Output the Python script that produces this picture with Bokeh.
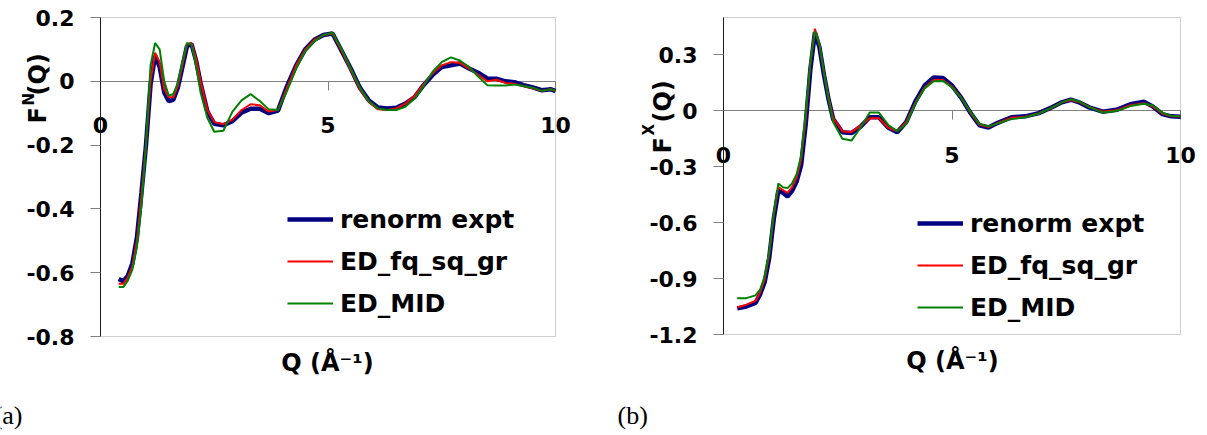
import math
from bokeh.plotting import figure
from bokeh.models import (LinearAxis, FixedTicker, CustomJSTickFormatter, Label,
                          Legend, LegendItem, Range1d, BoxAnnotation)
from bokeh.layouts import row
from bokeh.embed import file_html
from bokeh.resources import INLINE

# ---------------- data: panel (a) neutron F^N(Q) ----------------
qa = [0.4, 0.5, 0.6, 0.7, 0.8, 0.9, 1.0, 1.1, 1.2, 1.3, 1.4, 1.5, 1.6, 1.7, 1.8, 1.9,
      2.0, 2.1, 2.2, 2.35, 2.5, 2.7, 2.9, 3.1, 3.3, 3.5, 3.7, 3.9, 4.1, 4.3, 4.5, 4.7,
      4.9, 5.1, 5.3, 5.5, 5.7, 5.9, 6.1, 6.3, 6.5, 6.7, 6.9, 7.1, 7.3, 7.5, 7.7, 7.9,
      8.1, 8.3, 8.5, 8.7, 8.9, 9.1, 9.3, 9.5, 9.7, 9.9, 10.0]
fa_expt = [-0.62, -0.627, -0.61, -0.571, -0.49, -0.35, -0.2, -0.01, 0.08, 0.045, -0.035,
           -0.062, -0.058, -0.02, 0.045, 0.11, 0.117, 0.065, -0.006, -0.095, -0.133, -0.138,
           -0.125, -0.098, -0.086, -0.086, -0.1, -0.092, -0.015, 0.05, 0.1, 0.13, 0.145,
           0.15, 0.095, 0.04, -0.02, -0.06, -0.082, -0.085, -0.083, -0.07, -0.05, -0.012,
           0.02, 0.045, 0.05, 0.056, 0.04, 0.027, 0.009, 0.008, 0.0, -0.003, -0.012,
           -0.019, -0.028, -0.025, -0.031]
fa_fq = [-0.635, -0.635, -0.615, -0.58, -0.5, -0.36, -0.2, 0.0, 0.09, 0.06, -0.025,
         -0.05, -0.05, -0.015, 0.05, 0.115, 0.12, 0.07, 0.0, -0.09, -0.128, -0.135,
         -0.12, -0.09, -0.072, -0.075, -0.095, -0.09, -0.02, 0.05, 0.1, 0.13, 0.145,
         0.15, 0.095, 0.035, -0.025, -0.065, -0.088, -0.09, -0.085, -0.07, -0.045, -0.01,
         0.025, 0.05, 0.06, 0.058, 0.04, 0.02, 0.0, 0.005, -0.005, -0.008, -0.015,
         -0.022, -0.03, -0.025, -0.03]
fa_mid = [-0.645, -0.645, -0.625, -0.59, -0.52, -0.39, -0.2, 0.05, 0.12, 0.1, 0.0,
          -0.045, -0.04, -0.005, 0.06, 0.12, 0.115, 0.05, -0.035, -0.115, -0.158, -0.155,
          -0.095, -0.06, -0.04, -0.062, -0.088, -0.09, -0.03, 0.04, 0.095, 0.125, 0.145,
          0.152, 0.1, 0.04, -0.02, -0.062, -0.085, -0.09, -0.09, -0.08, -0.055, -0.015,
          0.03, 0.06, 0.075, 0.065, 0.045, 0.015, -0.012, -0.013, -0.013, -0.01, -0.015,
          -0.02, -0.03, -0.025, -0.03]

# ---------------- data: panel (b) x-ray F^X(Q) ----------------
qb = [0.3, 0.5, 0.7, 0.8, 0.9, 1.0, 1.1, 1.2, 1.3, 1.4, 1.5, 1.6, 1.7, 1.8, 1.9, 2.0,
      2.1, 2.2, 2.3, 2.4, 2.6, 2.8, 3.0, 3.2, 3.4, 3.6, 3.8, 4.0, 4.2, 4.4, 4.6, 4.8,
      5.0, 5.2, 5.4, 5.6, 5.8, 6.0, 6.3, 6.6, 6.9, 7.2, 7.4, 7.6, 7.8, 8.0, 8.3, 8.6,
      8.9, 9.2, 9.4, 9.6, 9.8, 10.0]
fb_expt = [-1.06, -1.05, -1.03, -0.985, -0.92, -0.79, -0.58, -0.43, -0.44, -0.46, -0.43,
           -0.38, -0.29, -0.07, 0.22, 0.42, 0.34, 0.19, 0.06, -0.045, -0.115, -0.12,
           -0.085, -0.035, -0.035, -0.09, -0.115, -0.06, 0.05, 0.135, 0.178, 0.175,
           0.135, 0.07, -0.01, -0.078, -0.09, -0.065, -0.035, -0.03, -0.013, 0.02, 0.045,
           0.059, 0.043, 0.018, -0.005, 0.005, 0.035, 0.048, 0.022, -0.018, -0.03, -0.032]
fb_fq = [-1.055, -1.04, -1.02, -0.975, -0.905, -0.77, -0.56, -0.41, -0.425, -0.44, -0.41,
         -0.36, -0.26, -0.04, 0.25, 0.44, 0.35, 0.2, 0.07, -0.04, -0.11, -0.115,
         -0.08, -0.04, -0.04, -0.09, -0.11, -0.06, 0.045, 0.125, 0.165, 0.165,
         0.13, 0.07, -0.01, -0.075, -0.088, -0.065, -0.038, -0.032, -0.015, 0.018, 0.045,
         0.058, 0.045, 0.02, -0.005, 0.002, 0.03, 0.04, 0.022, -0.015, -0.03, -0.03]
fb_mid = [-1.005, -1.005, -0.99, -0.96, -0.89, -0.76, -0.55, -0.39, -0.41, -0.415, -0.39,
          -0.34, -0.24, -0.01, 0.26, 0.425, 0.36, 0.2, 0.06, -0.06, -0.15, -0.16,
          -0.09, -0.01, -0.01, -0.075, -0.11, -0.07, 0.04, 0.12, 0.158, 0.16,
          0.125, 0.07, -0.005, -0.07, -0.085, -0.068, -0.045, -0.035, -0.015, 0.018, 0.045,
          0.062, 0.048, 0.02, -0.01, -0.002, 0.025, 0.038, 0.028, -0.01, -0.028, -0.03]

series_names = ["renorm expt", "ED_fq_sq_gr", "ED_MID"]
series_colors = ["#000080", "#FF0000", "#008000"]
series_widths = [4.5, 2, 2]
x_ticks = [0, 5, 10]
x_bounds = (0, 10)
ya_ticks = [-0.8, -0.6, -0.4, -0.2, 0, 0.2]
yb_ticks = [-1.2, -0.9, -0.6, -0.3, 0, 0.3]

FONT = "DejaVu Sans"
FMT = "return Number.isInteger(tick) ? tick.toFixed(0) : tick.toFixed(1);"
H = 435


def span_range(v0, p0, v1, p1, total, flip=False):
    """Range whose value v0 sits at pixel p0 and v1 at pixel p1 of a frame `total` px long."""
    s = (v1 - v0) / (p1 - p0)
    return Range1d(v0 - p0 * s, v0 + (total - p0) * s) if not flip else \
        Range1d(v0 + (total - p0) * s, v0 - p0 * s)


def make_panel(q, ys, ybounds, yticks, width, box_px, sup, tpos, qpos, leg_loc, tag, tag_pos):
    left_px, right_px, top_px, bot_px = box_px
    xr = span_range(x_bounds[0], left_px, x_bounds[1], right_px, width)
    # y pixels are measured from the top
    yr = span_range(ybounds[1], top_px, ybounds[0], bot_px, H, flip=True)
    p = figure(width=width, height=H, x_range=xr, y_range=yr,
               output_backend="svg", toolbar_location=None,
               x_axis_type=None, y_axis_type=None, min_border=0,
               min_border_left=0, min_border_right=0, min_border_top=0,
               min_border_bottom=0)
    p.outline_line_color = None
    p.background_fill_color = "white"
    p.border_fill_color = "white"

    # plot-area border
    p.add_layout(BoxAnnotation(left=x_bounds[0], right=x_bounds[1], bottom=ybounds[0],
                               top=ybounds[1], fill_alpha=0, line_color="#606060",
                               line_width=1, level="underlay"))

    yax = LinearAxis(fixed_location=0, bounds=ybounds, ticker=FixedTicker(ticks=yticks),
                     formatter=CustomJSTickFormatter(code=FMT))
    yax.axis_line_color = "black"
    yax.major_tick_line_color = "#808080"
    yax.major_tick_out = 10
    yax.major_tick_in = 0
    yax.minor_tick_line_color = None
    yax.major_label_standoff = 16
    yax.major_label_text_font = FONT
    yax.major_label_text_font_style = "bold"
    yax.major_label_text_font_size = "22px"
    yax.major_label_text_color = "black"
    yax.level = "underlay"
    p.add_layout(yax, "left")

    xax = LinearAxis(fixed_location=0, bounds=x_bounds, ticker=FixedTicker(ticks=x_ticks),
                     formatter=CustomJSTickFormatter(code=FMT))
    xax.axis_line_color = "#808080"
    xax.major_tick_line_color = "#808080"
    xax.major_tick_out = 9
    xax.major_tick_in = 0
    xax.minor_tick_line_color = None
    xax.major_label_standoff = 27
    xax.major_label_text_font = FONT
    xax.major_label_text_font_style = "bold"
    xax.major_label_text_font_size = "22px"
    xax.major_label_text_color = "black"
    xax.level = "underlay"
    p.add_layout(xax, "below")

    rends = []
    for y, c, w in zip(ys, series_colors, series_widths):
        rends.append(p.line(q, y, line_color=c, line_width=w))

    legend = Legend(items=[LegendItem(label=n, renderers=[r]) for n, r in zip(series_names, rends)],
                    location=leg_loc, padding=0, margin=0, spacing=0,
                    glyph_width=46, glyph_height=42, label_height=42, label_standoff=7,
                    border_line_color=None, background_fill_alpha=0,
                    label_text_font=FONT, label_text_font_style="bold",
                    label_text_font_size="25px", label_text_color="black")
    p.add_layout(legend)

    # y-axis title  F^sup(Q), rotated (screen px from bottom-left)
    (fx, fy), (sx, sy), (qx, qy) = tpos
    common = dict(x_units="screen", y_units="screen", angle=math.pi / 2,
                  text_font=FONT, text_font_style="bold", text_color="black",
                  text_align="left", text_baseline="alphabetic")
    p.add_layout(Label(x=fx, y=fy, text="F", text_font_size="24px", **common))
    p.add_layout(Label(x=sx, y=sy, text=sup, text_font_size="15px", **common))
    p.add_layout(Label(x=qx, y=qy, text="(Q)", text_font_size="24px", **common))

    # x-axis title
    p.add_layout(Label(x=qpos[0], y=qpos[1], x_units="screen", y_units="screen",
                       text="Q (Å⁻¹)", text_font=FONT, text_font_style="bold",
                       text_font_size="24px", text_color="black",
                       text_align="center", text_baseline="middle"))

    # panel tag
    tx, ty, talign = tag_pos
    p.add_layout(Label(x=tx, y=ty, x_units="screen", y_units="screen", text=tag,
                       text_font="Liberation Serif", text_font_size="26px",
                       text_color="black", text_align=talign, text_baseline="middle"))
    return p


pa = make_panel(qa, [fa_expt, fa_fq, fa_mid], (-0.8, 0.2), ya_ticks,
                615, (100, 555, 17, 336), "N",
                ((37, 312), (28, 330), (37, 340)), (327, 73),
                (287, 111), "(a)", (22, 20, "right"))
pb = make_panel(qb, [fb_expt, fb_fq, fb_mid], (-1.2, 0.5), yb_ticks,
                592, (108, 565, 17, 334), "X",
                ((47, 282), (33, 300), (47, 313)), (337, 75),
                (302, 107), "(b)", (2, 20, "left"))

layout = row(pa, pb)
open("out.html", "w").write(file_html(layout, INLINE))
